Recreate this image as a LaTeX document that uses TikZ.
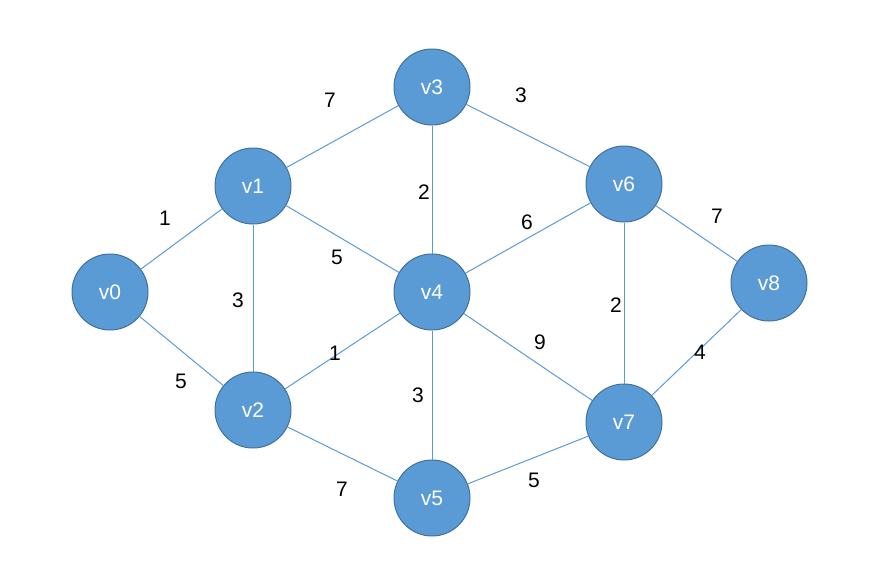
\documentclass[tikz,border=0pt]{standalone}
\usepackage{fontspec}
\setmainfont{Liberation Sans}
\definecolor{vfill}{HTML}{5B9BD5}
\definecolor{vline}{HTML}{41719C}
\tikzset{
  vert/.style={circle,fill=vfill,draw=vline,line width=1pt,minimum size=76pt,inner sep=0pt,text=white,font=\fontsize{21}{25}\selectfont},
  edge/.style={draw=vfill,line width=1pt},
  wt/.style={font=\fontsize{21}{25}\selectfont}
}
\begin{document}
\begin{tikzpicture}[x=1pt,y=-1pt]
\useasboundingbox (0,0) rectangle (883,568);
\node[vert] (v0) at (110,292) {v0};
\node[vert] (v1) at (253,186) {v1};
\node[vert] (v2) at (253,410) {v2};
\node[vert] (v3) at (432,87) {v3};
\node[vert] (v4) at (432,292) {v4};
\node[vert] (v5) at (432,498) {v5};
\node[vert] (v6) at (624,184) {v6};
\node[vert] (v7) at (624,422) {v7};
\node[vert] (v8) at (769,283) {v8};
\draw[edge] (v0) -- (v1);
\draw[edge] (v0) -- (v2);
\draw[edge] (v1) -- (v3);
\draw[edge] (v1) -- (v4);
\draw[edge] (v1) -- (v2);
\draw[edge] (v2) -- (v4);
\draw[edge] (v2) -- (v5);
\draw[edge] (v3) -- (v4);
\draw[edge] (v3) -- (v6);
\draw[edge] (v4) -- (v6);
\draw[edge] (v4) -- (v5);
\draw[edge] (v4) -- (v7);
\draw[edge] (v5) -- (v7);
\draw[edge] (v6) -- (v7);
\draw[edge] (v6) -- (v8);
\draw[edge] (v7) -- (v8);
% weights
\node[wt] (w13) at (330,100) {7};
\node[wt] (w36) at (521,95) {3};
\node[wt] (w01) at (165,218) {1};
\node[wt] (w34) at (424,192) {2};
\node[wt] (w46) at (527,222) {6};
\node[wt] (w68) at (717,216) {7};
\node[wt] (w14) at (337,257) {5};
\node[wt] (w12) at (238,300) {3};
\node[wt] (w24) at (335,353) {1};
\node[wt] (w47) at (540,342) {9};
\node[wt] (w67) at (616,305) {2};
\node[wt] (w78) at (700,352) {4};
\node[wt] (w02) at (181,381) {5};
\node[wt] (w45) at (418,395) {3};
\node[wt] (w25) at (342,489) {7};
\node[wt] (w57) at (534,480) {5};
\end{tikzpicture}
\end{document}
